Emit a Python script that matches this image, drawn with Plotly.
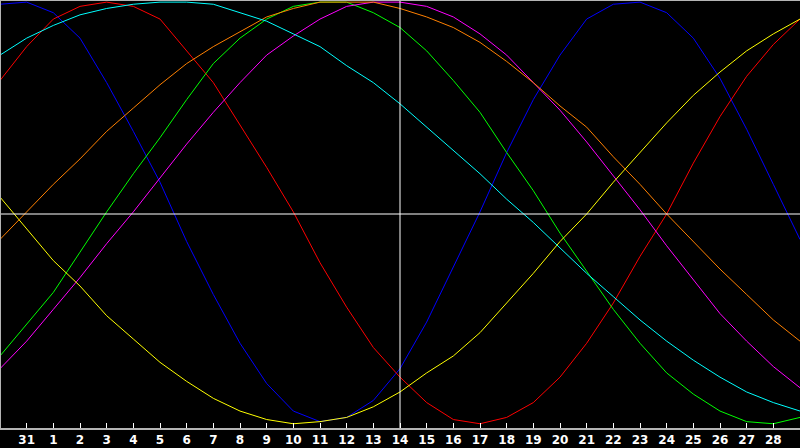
import plotly.graph_objects as go

# day positions across the window (0 = left edge, 30 = right edge)
days = list(range(31))

# tick labels shown under the axis, at days 1..29
tick_days = list(range(1, 30))
tick_labels = ["31"] + [str(d) for d in range(1, 29)]

# cycle values in percent, read per day from the chart
physical = [99, 100, 95, 83, 62, 39, 15, -13, -38, -61, -80, -93, -98, -96, -88, -73,
            -51, -25, 1, 29, 54, 75, 92, 99, 100, 95, 83, 64, 40, 14, -12]
emotional = [63, 79, 92, 98, 100, 98, 92, 77, 62, 42, 22, 1, -23, -44, -63, -77,
             -89, -97, -99, -96, -89, -77, -61, -42, -20, 0, 24, 46, 65, 80, 92]
intellectual = [-67, -52, -37, -18, 1, 19, 36, 54, 71, 83, 92, 98, 100, 100, 95, 88,
                77, 63, 48, 29, 11, -9, -27, -45, -61, -75, -85, -93, -98, -99, -96]
intuitive = [-73, -60, -45, -30, -14, 1, 17, 33, 48, 62, 75, 84, 92, 98, 100, 100,
             98, 93, 85, 75, 62, 49, 34, 18, 2, -15, -31, -47, -60, -72, -82]
aesthetic = [8, -7, -22, -34, -48, -59, -70, -79, -87, -93, -97, -99, -98, -96, -91, -84,
             -75, -67, -56, -42, -28, -13, 0, 15, 29, 43, 56, 67, 77, 85, 92]
awareness = [-12, 1, 14, 26, 39, 50, 61, 71, 79, 86, 93, 97, 100, 100, 100, 97,
             93, 88, 81, 72, 62, 51, 41, 27, 14, 0, -13, -26, -38, -50, -60]
spiritual = [75, 83, 89, 94, 97, 99, 100, 100, 99, 95, 91, 85, 79, 70, 62, 52,
             41, 30, 19, 7, -4, -16, -28, -39, -50, -60, -69, -77, -84, -89, -93]

series = [
    ("Physical", physical, "#0000ff"),
    ("Emotional", emotional, "#ff0000"),
    ("Intellectual", intellectual, "#00ff00"),
    ("Intuitive", intuitive, "#ff00ff"),
    ("Aesthetic", aesthetic, "#ffff00"),
    ("Awareness", awareness, "#ff8000"),
    ("Spiritual", spiritual, "#00ffff"),
]

fig = go.Figure()
for name, values, color in series:
    fig.add_trace(
        go.Scatter(
            x=days,
            y=values,
            mode="lines",
            line={"color": color, "width": 1},
            name=name,
        )
    )

# centre cross: today's line and the zero line
fig.add_shape(type="line", xref="x", yref="paper", x0=15, x1=15, y0=0, y1=1,
              line={"color": "white", "width": 1})
fig.add_shape(type="line", xref="paper", yref="y", x0=0, x1=1, y0=0, y1=0,
              line={"color": "white", "width": 1})
# grey frame on the top and left edges
fig.add_shape(type="line", xref="paper", yref="paper", x0=0, x1=1, y0=1, y1=1,
              line={"color": "#b4b4b4", "width": 2})
fig.add_shape(type="line", xref="paper", yref="paper", x0=0, x1=0, y0=0, y1=1,
              line={"color": "#b4b4b4", "width": 2})

fig.update_layout(
    width=800,
    height=448,
    margin={"l": 0, "r": 0, "t": 0, "b": 20},
    paper_bgcolor="black",
    plot_bgcolor="black",
    showlegend=False,
    xaxis={
        "range": [0, 30],
        "tickvals": tick_days,
        "ticktext": tick_labels,
        "ticks": "inside",
        "ticklen": 5,
        "tickcolor": "white",
        "tickwidth": 1,
        "showgrid": False,
        "zeroline": False,
        "showline": True,
        "linecolor": "#b4b4b4",
        "linewidth": 2,
        "tickfont": {"family": "DejaVu Sans", "size": 12, "color": "white", "weight": "bold"},
    },
    yaxis={
        "range": [-101, 101],
        "showticklabels": False,
        "showgrid": False,
        "zeroline": False,
        "ticks": "",
    },
)

fig.write_html(
    "out.html",
    config={"displayModeBar": False},
    post_script="document.body.style.margin='0';document.body.style.overflow='hidden';",
)
